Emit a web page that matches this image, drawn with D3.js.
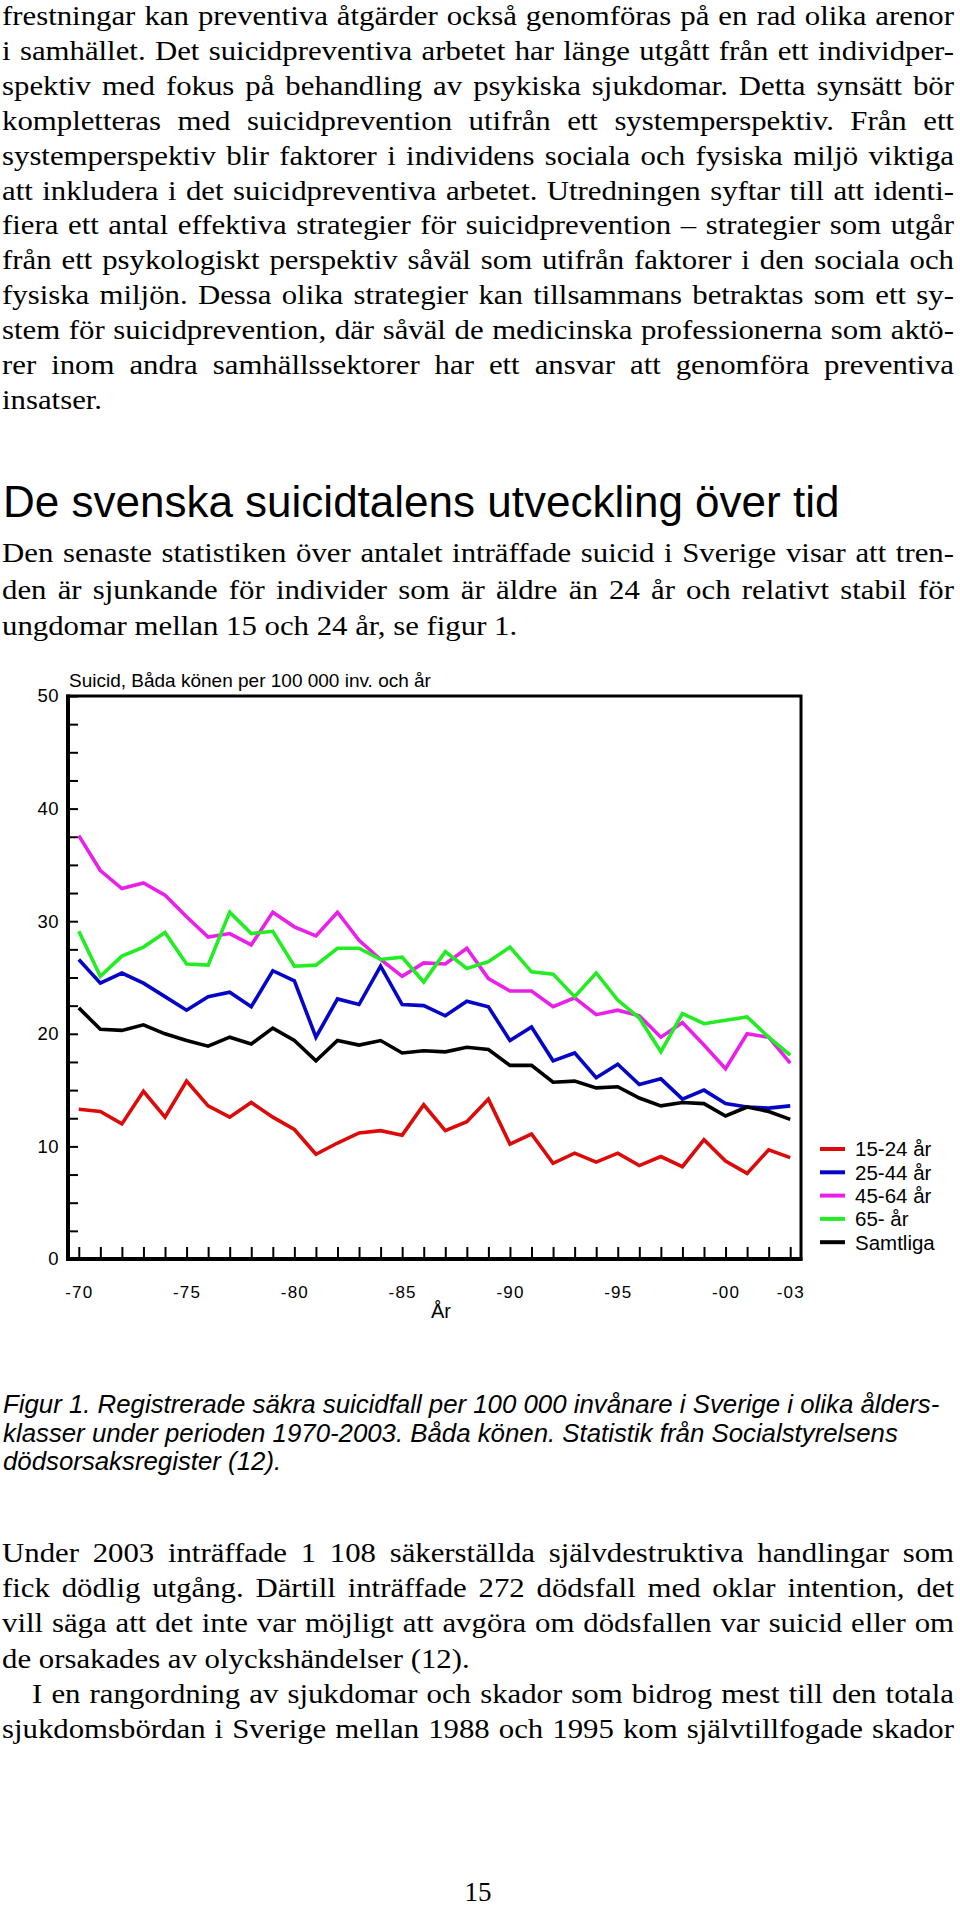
<!DOCTYPE html>
<html><head><meta charset="utf-8">
<script src="https://cdn.jsdelivr.net/npm/d3@7"></script>
<style>
html,body{margin:0;padding:0;background:#fff;}
svg{display:block;}
</style></head><body>
<svg id="page" width="960" height="1910"></svg>
<script>
// ---------- chart data ----------
const years = [1970,1971,1972,1973,1974,1975,1976,1977,1978,1979,1980,1981,1982,1983,1984,1985,1986,1987,1988,1989,1990,1991,1992,1993,1994,1995,1996,1997,1998,1999,2000,2001,2002,2003];
const age15_24 = [13.3,13.1,12.0,14.9,12.6,15.8,13.6,12.6,13.9,12.6,11.5,9.3,10.3,11.2,11.4,11.0,13.7,11.4,12.2,14.2,10.2,11.1,8.5,9.4,8.6,9.4,8.3,9.1,8.2,10.6,8.7,7.6,9.7,9.0];
const age25_44 = [26.6,24.5,25.4,24.5,23.3,22.1,23.3,23.7,22.4,25.6,24.7,19.7,23.1,22.6,26.0,22.6,22.5,21.6,22.9,22.4,19.4,20.6,17.6,18.3,16.1,17.3,15.5,16.0,14.2,15.0,13.8,13.5,13.4,13.6];
const age45_64 = [37.6,34.5,32.9,33.4,32.3,30.4,28.6,28.9,27.9,30.8,29.5,28.7,30.8,28.3,26.6,25.1,26.3,26.2,27.6,24.9,23.8,23.8,22.4,23.2,21.7,22.1,21.6,19.7,21.0,19.0,16.9,20.0,19.7,17.4];
const age65 = [29.1,25.1,26.9,27.7,29.0,26.2,26.1,30.8,28.9,29.1,26.0,26.1,27.6,27.6,26.6,26.8,24.6,27.3,25.8,26.4,27.7,25.5,25.3,23.3,25.4,23.0,21.4,18.4,21.8,20.9,21.2,21.5,19.7,18.1];
const samtliga = [22.3,20.4,20.3,20.8,20.0,19.4,18.9,19.7,19.1,20.5,19.4,17.6,19.4,19.0,19.4,18.3,18.5,18.4,18.8,18.6,17.2,17.2,15.7,15.8,15.2,15.3,14.3,13.6,13.9,13.8,12.7,13.5,13.1,12.4];
const seriesNames = ["15-24 år","25-44 år","45-64 år","65- år","Samtliga"];
const seriesColors = ["#dd0a0a","#0505c8","#ea20ea","#22ec22","#000000"];
const yTickValues = [0,2.5,5,7.5,10,12.5,15,17.5,20,22.5,25,27.5,30,32.5,35,37.5,40,42.5,45,47.5,50];
const yTickLabels = [0,10,20,30,40,50];
const xLabelYears = [1970,1975,1980,1985,1990,1995,2000,2003];
const xLabelTexts = ["-70","-75","-80","-85","-90","-95","-00","-03"];
const chartTitle = "Suicid, Båda könen per 100 000 inv. och år";
const xAxisTitle = "År";

// ---------- page text ----------
const para1 = [
 "frestningar kan preventiva åtgärder också genomföras på en rad olika arenor",
 "i samhället. Det suicidpreventiva arbetet har länge utgått från ett individper-",
 "spektiv med fokus på behandling av psykiska sjukdomar. Detta synsätt bör",
 "kompletteras med suicidprevention utifrån ett systemperspektiv. Från ett",
 "systemperspektiv blir faktorer i individens sociala och fysiska miljö viktiga",
 "att inkludera i det suicidpreventiva arbetet. Utredningen syftar till att identi-",
 "fiera ett antal effektiva strategier för suicidprevention – strategier som utgår",
 "från ett psykologiskt perspektiv såväl som utifrån faktorer i den sociala och",
 "fysiska miljön. Dessa olika strategier kan tillsammans betraktas som ett sy-",
 "stem för suicidprevention, där såväl de medicinska professionerna som aktö-",
 "rer inom andra samhällssektorer har ett ansvar att genomföra preventiva",
 "insatser."
];
const heading = "De svenska suicidtalens utveckling över tid";
const para2 = [
 "Den senaste statistiken över antalet inträffade suicid i Sverige visar att tren-",
 "den är sjunkande för individer som är äldre än 24 år och relativt stabil för",
 "ungdomar mellan 15 och 24 år, se figur 1."
];
const caption = [
 "Figur 1. Registrerade säkra suicidfall per 100 000 invånare i Sverige i olika ålders-",
 "klasser under perioden 1970-2003. Båda könen. Statistik från Socialstyrelsens",
 "dödsorsaksregister (12)."
];
const para3 = [
 "Under 2003 inträffade 1 108 säkerställda självdestruktiva handlingar som",
 "fick dödlig utgång. Därtill inträffade 272 dödsfall med oklar intention, det",
 "vill säga att det inte var möjligt att avgöra om dödsfallen var suicid eller om",
 "de orsakades av olyckshändelser (12)."
];
const para4 = [
 "I en rangordning av sjukdomar och skador som bidrog mest till den totala",
 "sjukdomsbördan i Sverige mellan 1988 och 1995 kom självtillfogade skador"
];
const pageNumber = "15";

const svg = d3.select("#page");
const serif = "'Liberation Serif','Times New Roman',serif";
const sans = "'Liberation Sans',Arial,sans-serif";
const RIGHT = 954;
const SX = 1.1;

function bodyLine(text, x0, y, justify) {
  const t = svg.append("text")
    .attr("transform", `translate(${x0},${y}) scale(${SX},1)`)
    .attr("font-family", serif).attr("font-size", 28).attr("fill", "#000")
    .text(text);
  if (justify) {
    const nat = t.node().getComputedTextLength();
    const target = (RIGHT - x0) / SX;
    const n = (text.match(/ /g) || []).length;
    if (n > 0) t.style("word-spacing", ((target - nat) / n) + "px");
  }
}
function paragraph(lines, y0, step) {
  lines.forEach((l, i) => bodyLine(l, 2, y0 + i * step, i < lines.length - 1));
}
paragraph(para1, 25, 34.9);
svg.append("text").attr("x", 3).attr("y", 517).attr("font-family", sans).attr("font-size", 44).text(heading);
paragraph(para2, 562, 36.5);
caption.forEach((l, i) => svg.append("text").attr("x", 3).attr("y", 1413 + i * 28.5)
  .attr("font-family", sans).attr("font-style", "italic").attr("font-size", 25.8).text(l));
para3.forEach((l, i) => bodyLine(l, 2, 1562 + i * 35.2, i < para3.length - 1));
para4.forEach((l, i) => bodyLine(l, i === 0 ? 32 : 2, 1562 + (4 + i) * 35.2, true));
svg.append("text").attr("x", 478).attr("y", 1901).attr("text-anchor", "middle")
  .attr("font-family", serif).attr("font-size", 27).text(pageNumber);

// ---------- chart ----------
const x = d3.scaleLinear().domain([1969.5, 2003.5]).range([68, 801]);
const y = d3.scaleLinear().domain([0, 50]).range([1259, 696]);
const chart = svg.append("g");

chart.append("text").attr("x", 69).attr("y", 687).attr("font-family", sans).attr("font-size", 19).text(chartTitle);

// y axis ticks (inward)
chart.append("g").attr("transform", `translate(${x.range()[0]},0)`)
  .call(d3.axisLeft(y).tickValues(yTickValues).tickSize(-10).tickPadding(9)
    .tickFormat(d => yTickLabels.includes(d) ? d : ""))
  .call(g => g.select(".domain").remove())
  .call(g => g.selectAll("line").attr("stroke-width", 2))
  .call(g => g.selectAll("text").attr("font-family", sans).attr("font-size", 18.5).attr("fill", "#000").style("letter-spacing", "0.5px"));

// x axis ticks (inward)
chart.append("g").attr("transform", `translate(0,${y.range()[0]})`)
  .call(d3.axisBottom(x).tickValues(years).tickSize(-12)
    .tickFormat(d => { const k = xLabelYears.indexOf(d); return k >= 0 ? xLabelTexts[k] : ""; }))
  .call(g => g.select(".domain").remove())
  .call(g => g.selectAll("line").attr("stroke-width", 2))
  .call(g => g.selectAll("text").attr("y", 39).attr("dy", 0).attr("font-family", sans).attr("font-size", 17).attr("fill", "#000").style("letter-spacing", "1.2px"));

// frame
const [x0, x1] = x.range(), [yb, yt] = y.range();
chart.append("rect").attr("x", x0).attr("y", yt).attr("width", x1 - x0).attr("height", yb - yt)
  .attr("fill", "none").attr("stroke", "#000").attr("stroke-width", 3);
chart.append("line").attr("x1", x0).attr("x2", x0).attr("y1", yt - 1.5).attr("y2", yb + 2).attr("stroke", "#000").attr("stroke-width", 4);
chart.append("line").attr("x1", x0 - 2).attr("x2", x1 + 1.5).attr("y1", yb).attr("y2", yb).attr("stroke", "#000").attr("stroke-width", 4);

chart.append("text").attr("x", 441).attr("y", 1318).attr("text-anchor", "middle")
  .attr("font-family", sans).attr("font-size", 20).text(xAxisTitle);

const allSeries = [age15_24, age25_44, age45_64, age65, samtliga];
const line = d3.line().x((d, i) => x(years[i])).y(d => y(d));
allSeries.forEach((s, k) => {
  chart.append("path").datum(s).attr("d", line).attr("fill", "none")
    .attr("stroke", seriesColors[k]).attr("stroke-width", 3.6).attr("stroke-linejoin", "miter");
});

// legend
const lg = chart.append("g");
seriesNames.forEach((name, k) => {
  const ly = 1149 + k * 23.3;
  lg.append("line").attr("x1", 820).attr("x2", 845).attr("y1", ly).attr("y2", ly)
    .attr("stroke", seriesColors[k]).attr("stroke-width", 4);
  lg.append("text").attr("x", 855).attr("y", ly).attr("dy", "0.36em")
    .attr("font-family", sans).attr("font-size", 20.5).text(name);
});
</script>
</body></html>
